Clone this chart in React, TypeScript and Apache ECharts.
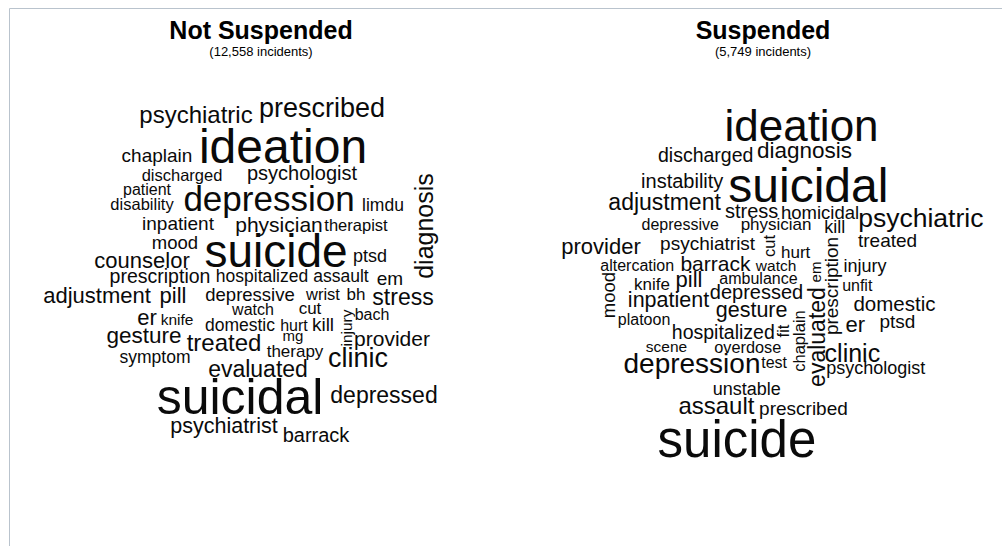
import React, { useEffect, useRef } from "react";
import * as echarts from "echarts";

// Not Suspended panel (x relative to panel centre, y from top)
const leftWords = ["psychiatric","prescribed","ideation","chaplain","discharged","psychologist","patient","disability","depression","limdu","diagnosis","inpatient","physician","therapist","mood","suicide","ptsd","counselor","prescription","hospitalized","assault","em","adjustment","pill","depressive","wrist","bh","stress","er","knife","watch","cut","bach","injury","domestic","hurt","kill","gesture","treated","mg","provider","therapy","symptom","clinic","evaluated","suicidal","depressed","psychiatrist","barrack"];
const leftSize = [24,27,48,19,16.5,20,16,16.5,35,17.5,25,19,21,16.5,18.5,46,18,22,19.5,17.5,17.5,19,22,22,18.5,16.5,17,23,22,15.5,16,17,16,15.5,17.5,16,19,22.5,24,15,21,17,17.5,27,23,50,23,21.5,20];
const leftX = [196,322,283,157,182,302,147,142,269,383,424,178,279,356,175,276,370,142,160,262,341,390,97,173,250,323,356,403,147,177,253,310,372,346,240,294,323,144,224,293,392,295,155,358,258,240,384,224,316];
const leftY = [114,108,146,155,175,173,189,204,198,205,226,223,224,225,242,251,256,260,276,276,276,278,295,295,294,294,294,297,317,319,309,308,314,328,325,325,324,335,342,335,338,351,357,358,369,397,395,426,435];
const leftRot = [0,0,0,0,0,0,0,0,0,0,90,0,0,0,0,0,0,0,0,0,0,0,0,0,0,0,0,0,0,0,0,0,0,90,0,0,0,0,0,0,0,0,0,0,0,0,0,0,0];

// Suspended panel
const rightWords = ["ideation","discharged","diagnosis","instability","suicidal","adjustment","stress","homicidal","psychiatric","depressive","physician","kill","treated","provider","psychiatrist","cut","hurt","prescription","em","evaluated","injury","altercation","barrack","watch","mood","knife","pill","ambulance","depressed","unfit","inpatient","gesture","domestic","platoon","chaplain","fit","er","ptsd","hospitalized","scene","overdose","depression","test","clinic","psychologist","unstable","assault","prescribed","suicide"];
const rightSize = [44,19.5,22.5,20,48,23,20,18.5,26.5,16,17,18,19,22,19,16.5,17,19,15,23,18,16,21,15.5,18.5,17,22,16,20,16,21.5,21.5,20.5,16,16.5,16.5,22,19,19.5,15.5,16.3,28,16,25,18,18,24,19,51];
const rightX = [808,710,811,686,815,668,757,827,930,684,782,842,896,603,712,775,802,839,822,824,873,640,720,782,611,655,693,764,762,865,672,757,903,647,805,789,863,906,728,670,753,696,780,860,884,752,721,810,742];
const rightY = [125,155,150,181,185,202,211,212,218,224,224,227,240,246,243,246,252,286,272,337,266,265,263,265,295,284,279,278,292,285,300,310,303,319,341,331,324,321,332,346,347,363,362,353,368,389,405,408,439];
const rightRot = [0,0,0,0,0,0,0,0,0,0,0,0,0,0,0,90,0,90,90,90,0,0,0,0,90,0,0,0,0,0,0,0,0,0,90,90,0,0,0,0,0,0,0,0,0,0,0,0,0];

const panelTitles = ["Not Suspended", "Suspended"];
const panelSubtitles = ["(12,558 incidents)", "(5,749 incidents)"];
const panelCentres = [261, 763];

const FONT = "'Liberation Sans', Arial, Helvetica, sans-serif";

function buildData(words: string[], size: number[], xs: number[], ys: number[], rot: number[], centre: number) {
  return words.map((w, i) => ({
    name: w,
    value: [xs[i] - centre, ys[i]],
    label: {
      fontSize: size[i],
      rotate: rot[i],
    },
  }));
}

export default function App() {
  const ref = useRef<HTMLDivElement>(null);
  useEffect(() => {
    if (!ref.current) return;
    const chart = echarts.init(ref.current, null, { renderer: "svg" });
    const grids = panelCentres.map((c) => ({ left: c - 250, width: 500, top: 0, height: 546 }));
    const xAxes = panelCentres.map((_, i) => ({ type: "value", gridIndex: i, min: -250, max: 250, show: false }));
    const yAxes = panelCentres.map((_, i) => ({ type: "value", gridIndex: i, min: 0, max: 546, inverse: true, show: false }));
    const sets = [
      buildData(leftWords, leftSize, leftX, leftY, leftRot, panelCentres[0]),
      buildData(rightWords, rightSize, rightX, rightY, rightRot, panelCentres[1]),
    ];
    const series = sets.map((data, i) => ({
      type: "scatter",
      xAxisIndex: i,
      yAxisIndex: i,
      symbolSize: 0,
      silent: true,
      clip: false,
      itemStyle: { opacity: 1, color: "#000" },
      data,
      label: {
        show: true,
        position: "inside",
        formatter: "{b}",
        fontFamily: FONT,
        color: "#0a0a0a",
        opacity: 1,
        align: "center",
        verticalAlign: "middle",
      },
    }));
    chart.setOption({
      animation: false,
      backgroundColor: "#fff",
      grid: grids,
      xAxis: xAxes,
      yAxis: yAxes,
      title: panelCentres.map((c, i) => ({
        text: panelTitles[i],
        subtext: panelSubtitles[i],
        left: c,
        top: 17,
        textAlign: "center",
        itemGap: 3,
        padding: 0,
        textStyle: { fontSize: 25, fontWeight: "bold", color: "#000", fontFamily: FONT },
        subtextStyle: { fontSize: 13, color: "#000", fontFamily: FONT },
      })),
      graphic: [
        { type: "line", shape: { x1: 9.5, y1: 8.5, x2: 1002, y2: 8.5 }, style: { stroke: "#b9c3cd", lineWidth: 1 } },
        { type: "line", shape: { x1: 9.5, y1: 8.5, x2: 9.5, y2: 546 }, style: { stroke: "#b9c3cd", lineWidth: 1 } },
      ],
      series,
    });
    return () => chart.dispose();
  }, []);
  return <div ref={ref} style={{ position: "fixed", left: 0, top: 0, width: 1002, height: 546 }} />;
}
